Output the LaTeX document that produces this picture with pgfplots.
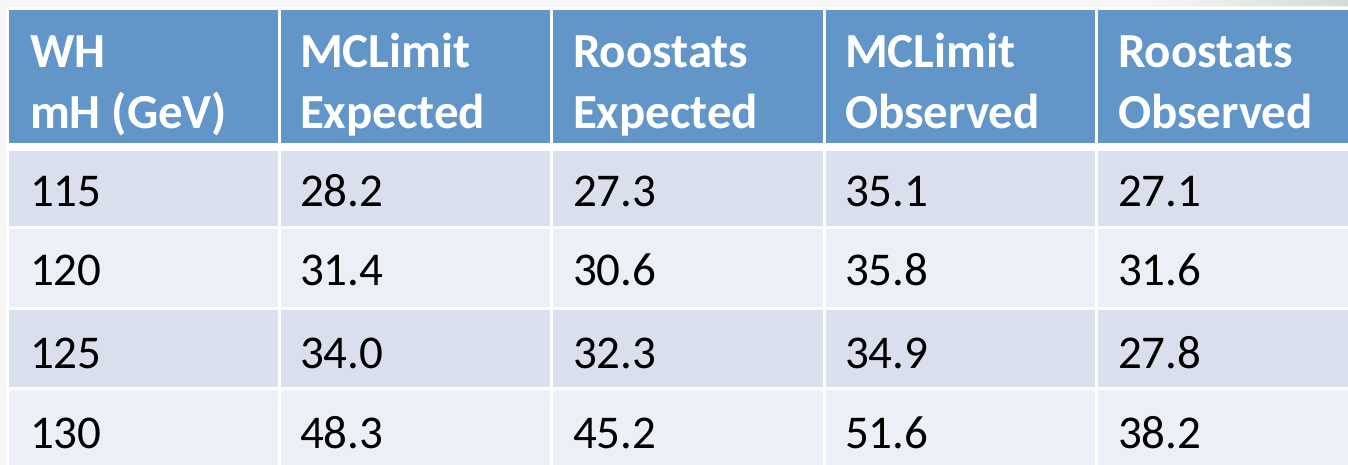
\documentclass[border=0pt]{standalone}
\usepackage{fontspec}
\setmainfont{Carlito}
\usepackage{pgfplots}
\pgfplotsset{compat=1.18}
\definecolor{bg}{RGB}{246,246,246}
\definecolor{hdr}{RGB}{98,150,200}
\definecolor{rowA}{RGB}{217,223,236}
\definecolor{rowB}{RGB}{236,239,245}
\definecolor{band}{RGB}{212,218,212}
\newcommand\hd{\fontsize{49bp}{58bp}\selectfont\bfseries\color{white}}
\newcommand\bd{\fontsize{47bp}{56bp}\selectfont\color{black}}
\begin{document}
\begin{tikzpicture}
\begin{axis}[
  width=1348bp, height=465bp, scale only axis,
  xmin=0, xmax=1348, ymin=0, ymax=465, y dir=reverse,
  hide axis, clip=true,
  nodes near coords, point meta=explicit symbolic,
  every node near coord/.append style={anchor=base west, inner sep=0pt, outer sep=0pt},
]
% background
\fill[bg] (axis cs:0,0) rectangle (axis cs:1348,465);
\shade[left color=bg, right color=band] (axis cs:1150,0) rectangle (axis cs:1348,6);
\fill[white] (axis cs:6,7) rectangle (axis cs:1348,465);
% cells
\fill[hdr] (axis cs:9,10) rectangle (axis cs:278,143);
\fill[hdr] (axis cs:281,10) rectangle (axis cs:550,143);
\fill[hdr] (axis cs:553,10) rectangle (axis cs:823,143);
\fill[hdr] (axis cs:826,10) rectangle (axis cs:1095,143);
\fill[hdr] (axis cs:1098,10) rectangle (axis cs:1348,143);
\fill[rowA] (axis cs:9,151) rectangle (axis cs:278,226);
\fill[rowA] (axis cs:281,151) rectangle (axis cs:550,226);
\fill[rowA] (axis cs:553,151) rectangle (axis cs:823,226);
\fill[rowA] (axis cs:826,151) rectangle (axis cs:1095,226);
\fill[rowA] (axis cs:1098,151) rectangle (axis cs:1348,226);
\fill[rowB] (axis cs:9,229) rectangle (axis cs:278,307);
\fill[rowB] (axis cs:281,229) rectangle (axis cs:550,307);
\fill[rowB] (axis cs:553,229) rectangle (axis cs:823,307);
\fill[rowB] (axis cs:826,229) rectangle (axis cs:1095,307);
\fill[rowB] (axis cs:1098,229) rectangle (axis cs:1348,307);
\fill[rowA] (axis cs:9,310) rectangle (axis cs:278,387);
\fill[rowA] (axis cs:281,310) rectangle (axis cs:550,387);
\fill[rowA] (axis cs:553,310) rectangle (axis cs:823,387);
\fill[rowA] (axis cs:826,310) rectangle (axis cs:1095,387);
\fill[rowA] (axis cs:1098,310) rectangle (axis cs:1348,387);
\fill[rowB] (axis cs:9,390) rectangle (axis cs:278,465);
\fill[rowB] (axis cs:281,390) rectangle (axis cs:550,465);
\fill[rowB] (axis cs:553,390) rectangle (axis cs:823,465);
\fill[rowB] (axis cs:826,390) rectangle (axis cs:1095,465);
\fill[rowB] (axis cs:1098,390) rectangle (axis cs:1348,465);
% header text
\addplot[draw=none, mark=none, every node near coord/.append style={font=\hd}] coordinates {
  (30,68)[WH] (30,128)[mH (GeV)]
  (300,68)[MCLimit] (300,128)[Expected]
  (573,68)[Roostats] (573,128)[Expected]
  (845,68)[MCLimit] (845,128)[Observed]
  (1118,68)[Roostats] (1118,128)[Observed]
};
% mass column
\addplot[draw=none, mark=none, every node near coord/.append style={font=\bd}] coordinates {
  (30,206)[115] (30,285)[120] (30,368)[125] (30,448)[130]
};
% MCLimit expected
\addplot[draw=none, mark=none, every node near coord/.append style={font=\bd}] coordinates {
  (300,206)[28.2] (300,285)[31.4] (300,368)[34.0] (300,448)[48.3]
};
% Roostats expected
\addplot[draw=none, mark=none, every node near coord/.append style={font=\bd}] coordinates {
  (573,206)[27.3] (573,285)[30.6] (573,368)[32.3] (573,448)[45.2]
};
% MCLimit observed
\addplot[draw=none, mark=none, every node near coord/.append style={font=\bd}] coordinates {
  (845,206)[35.1] (845,285)[35.8] (845,368)[34.9] (845,448)[51.6]
};
% Roostats observed
\addplot[draw=none, mark=none, every node near coord/.append style={font=\bd}] coordinates {
  (1118,206)[27.1] (1118,285)[31.6] (1118,368)[27.8] (1118,448)[38.2]
};
\end{axis}
\end{tikzpicture}
\end{document}
